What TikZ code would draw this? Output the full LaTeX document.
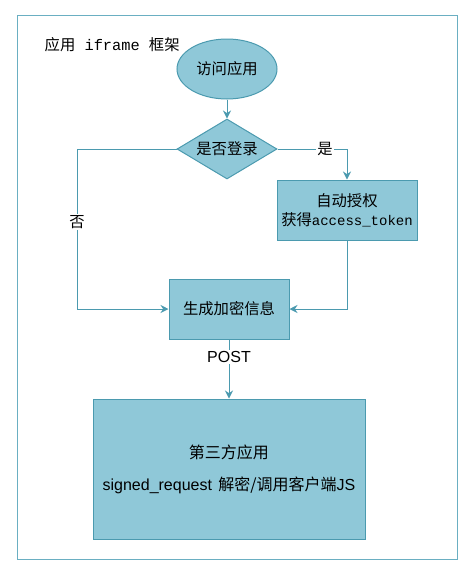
\documentclass[tikz,border=0pt]{standalone}
\usepackage{fontspec}
\setmainfont{Liberation Sans}
\newfontfamily\cjk{Noto Sans CJK SC}
\newfontfamily\monofont{Liberation Mono}
\usepackage{tikz}
\usetikzlibrary{calc, shapes, arrows.meta}
\usetikzlibrary{positioning}
\definecolor{boxfill}{HTML}{8FC8D8}
\definecolor{boxline}{HTML}{4B9AAF}
\definecolor{frameline}{HTML}{6AAFC2}
\tikzstyle{terminator} = [rectangle, draw=boxline, fill=boxfill, line width=0.75pt, text centered, align=center]
\tikzstyle{flowline} = [draw=boxline, line width=0.75pt, -{Stealth[length=6pt, width=6pt]}]
\tikzstyle{flowlabel} = [fill=white, inner sep=1pt]

\begin{document}
\begin{tikzpicture}[x=0.75pt, y=-0.75pt, font=\fontsize{11.5}{14}\selectfont\cjk]
        \useasboundingbox (0, 0) rectangle (475, 576);
        \node[rectangle, draw=frameline, line width=0.75pt, minimum width=330pt, minimum height=408pt] at (237, 287) (Frame) {};
        \node[anchor=west] at (40, 45) (Title) {应用\hspace{0.6em}{\monofont iframe}\hspace{0.6em}框架};

        \node[ellipse, draw=boxline, fill=boxfill, line width=0.75pt, minimum width=75pt, minimum height=45pt] at (227, 69) (Visit) {访问应用};
        \node[diamond, draw=boxline, fill=boxfill, line width=0.75pt, minimum width=75pt, minimum height=45pt, aspect=1.67, inner sep=0pt] at (227, 149) (Login) {是否登录};
        \node[terminator, minimum width=105pt, minimum height=45pt, inner xsep=1pt] at (347, 210) (Auth) {自动授权\\获得{\monofont\fontsize{10.5}{14}\selectfont access\_token}};
        \node[terminator, minimum width=90pt, minimum height=45pt] at (229, 309) (Encrypt) {生成加密信息};
        \node[terminator, minimum width=204pt, minimum height=105pt, font=\fontsize{12}{14}\selectfont\cjk] at (229, 469) (ThirdApp) {第三方应用\\[10pt]{\rmfamily signed\_request}\hspace{0.4em}解密/调用客户端{\rmfamily JS}};

        \coordinate (NoCorner) at (77, 149);
        \coordinate (AuthCorner) at (347, 309);

        \draw[flowline] (Visit) -- (Login);
        \draw[flowline] (Login.west) -- (NoCorner) |- (Encrypt.west);
        \draw[flowline] (Login.east) -| (Auth.north);
        \draw[flowline] (Auth.south) -- (AuthCorner) -- (Encrypt.east);
        \draw[flowline] (Encrypt) -- (ThirdApp);

        \node[flowlabel] at (77, 222) (NoLabel) {否};
        \node[flowlabel] at (325, 149) (YesLabel) {是};
        \node[flowlabel, font=\fontsize{12}{14}\selectfont\rmfamily] at (229, 357) (PostLabel) {POST};
    \end{tikzpicture}
\end{document}
